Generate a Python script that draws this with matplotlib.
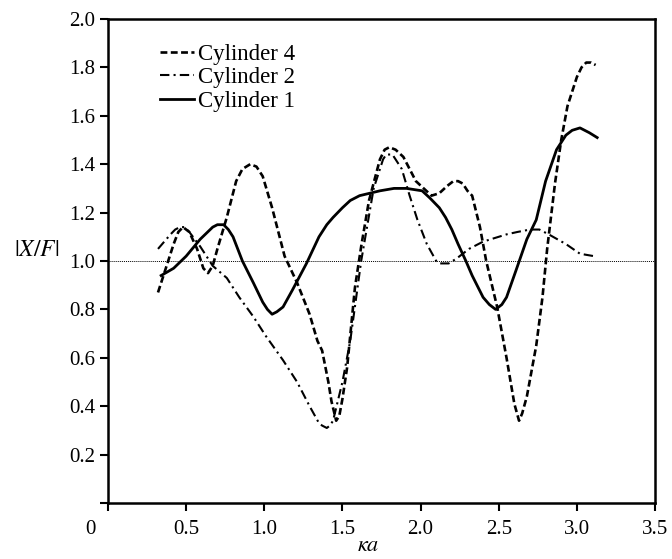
import matplotlib
matplotlib.use("Agg")
import matplotlib.pyplot as plt
import matplotlib.transforms as mtransforms

# ---- data ----
cyl4_x = [0.32, 0.36, 0.42, 0.45, 0.48, 0.52, 0.57, 0.61, 0.64, 0.67, 0.70, 0.76, 0.82,
          0.86, 0.91, 0.95, 0.99, 1.05, 1.13, 1.21, 1.29, 1.34, 1.37, 1.41, 1.43, 1.46,
          1.48, 1.50, 1.53, 1.58, 1.62, 1.67, 1.74, 1.77, 1.80, 1.84, 1.89, 1.97, 2.07,
          2.12, 2.17, 2.21, 2.24, 2.27, 2.30, 2.33, 2.38, 2.42, 2.49, 2.55, 2.60, 2.63,
          2.65, 2.68, 2.74, 2.78, 2.81, 2.86, 2.90, 2.94, 3.00, 3.03, 3.06, 3.09, 3.12]
cyl4_y = [0.87, 0.95, 1.07, 1.12, 1.14, 1.12, 1.05, 0.97, 0.95, 0.98, 1.05, 1.18, 1.33,
          1.38, 1.40, 1.39, 1.35, 1.22, 1.02, 0.91, 0.78, 0.67, 0.63, 0.50, 0.42, 0.34,
          0.36, 0.43, 0.56, 0.89, 1.06, 1.25, 1.42, 1.46, 1.47, 1.46, 1.43, 1.33, 1.27,
          1.28, 1.31, 1.33, 1.33, 1.32, 1.29, 1.27, 1.14, 1.00, 0.81, 0.60, 0.41, 0.34,
          0.37, 0.44, 0.65, 0.85, 1.05, 1.32, 1.50, 1.64, 1.76, 1.80, 1.82, 1.82, 1.81]

cyl2_x = [0.32, 0.40, 0.43, 0.46, 0.49, 0.52, 0.59, 0.67, 0.76, 0.84, 0.93, 1.01, 1.12,
          1.21, 1.29, 1.35, 1.37, 1.40, 1.42, 1.44, 1.50, 1.55, 1.62, 1.70, 1.76, 1.78,
          1.80, 1.82, 1.84, 1.88, 1.93, 1.98, 2.04, 2.10, 2.12, 2.14, 2.18, 2.23, 2.31,
          2.40, 2.55, 2.62, 2.70, 2.76, 2.82, 2.93, 3.02, 3.11]
cyl2_y = [1.05, 1.11, 1.13, 1.14, 1.14, 1.12, 1.06, 0.98, 0.93, 0.85, 0.77, 0.69, 0.59,
          0.50, 0.40, 0.33, 0.32, 0.31, 0.32, 0.34, 0.50, 0.67, 1.00, 1.30, 1.42, 1.44,
          1.44, 1.44, 1.42, 1.38, 1.27, 1.17, 1.07, 1.00, 0.99, 0.99, 0.99, 1.01, 1.05,
          1.08, 1.11, 1.12, 1.13, 1.13, 1.11, 1.07, 1.03, 1.02]

cyl1_x = [0.34, 0.42, 0.50, 0.59, 0.67, 0.70, 0.74, 0.77, 0.80, 0.86, 0.93, 0.99, 1.02,
          1.05, 1.08, 1.12, 1.18, 1.27, 1.35, 1.40, 1.44, 1.50, 1.55, 1.61, 1.74, 1.83,
          1.91, 2.01, 2.06, 2.12, 2.16, 2.20, 2.24, 2.29, 2.33, 2.40, 2.44, 2.48, 2.52,
          2.55, 2.61, 2.68, 2.74, 2.80, 2.87, 2.93, 2.97, 3.02, 3.08, 3.13]
cyl1_y = [0.94, 0.97, 1.02, 1.09, 1.14, 1.15, 1.15, 1.13, 1.10, 1.00, 0.91, 0.83, 0.80,
          0.78, 0.79, 0.81, 0.88, 0.99, 1.10, 1.15, 1.18, 1.22, 1.25, 1.27, 1.29, 1.30,
          1.30, 1.29, 1.26, 1.22, 1.18, 1.13, 1.07, 1.00, 0.94, 0.85, 0.82, 0.80, 0.82,
          0.85, 0.96, 1.09, 1.17, 1.33, 1.46, 1.52, 1.54, 1.55, 1.53, 1.51]

x_ticks = [0, 0.5, 1.0, 1.5, 2.0, 2.5, 3.0, 3.5]
x_ticklabels = ["0", "0.5", "1.0", "1.5", "2.0", "2.5", "3.0", "3.5"]
y_ticks = [0, 0.2, 0.4, 0.6, 0.8, 1.0, 1.2, 1.4, 1.6, 1.8, 2.0]
y_ticklabels = ["", "0.2", "0.4", "0.6", "0.8", "1.0", "1.2", "1.4", "1.6", "1.8", "2.0"]

plt.rcParams["font.family"] = ["Liberation Serif", "DejaVu Serif"]
plt.rcParams["mathtext.fontset"] = "stix"

fig = plt.figure(figsize=(6.72, 5.59), dpi=100)
ax = fig.add_axes([108 / 672, 1 - 503 / 559, (655 - 108) / 672, (503 - 19) / 559])

ax.axhline(1.0, color="black", lw=0.7, ls=(0, (1, 1)), zorder=1)

ax.plot(cyl4_x, cyl4_y, color="black", lw=1.9, ls=(0, (2.6, 1.3)), label="Cylinder 4")
ax.plot(cyl2_x, cyl2_y, color="black", lw=1.5, ls=(0, (4.5, 2, 1, 2)), label="Cylinder 2")
ax.plot(cyl1_x, cyl1_y, color="black", lw=2.0, ls="-", label="Cylinder 1")

ax.set_xlim(0, 3.5)
ax.set_ylim(0, 2.0)
ax.set_xticks(x_ticks)
ax.set_xticklabels(x_ticklabels)
ax.set_yticks(y_ticks)
ax.set_yticklabels(y_ticklabels)
ax.tick_params(direction="out", length=6, width=1.5, labelsize=15, pad=3)
ax.tick_params(axis="x", pad=6)
for s in ax.spines.values():
    s.set_linewidth(1.8)

# shift the "0" x label to the left like the reference
lbl0 = ax.get_xticklabels()[0]
lbl0.set_transform(lbl0.get_transform() + mtransforms.ScaledTranslation(-18 / 100, 0, fig.dpi_scale_trans))

ax.set_ylabel(r"$|X/F|$", rotation=0, fontsize=17, labelpad=0)
ax.yaxis.set_label_coords(-0.13, 0.5)
ax.set_xlabel(r"$\kappa a$", fontsize=16, labelpad=4)
ax.xaxis.set_label_coords(0.475, -0.07)

leg = ax.legend(loc="upper left", bbox_to_anchor=(0.078, 0.968), frameon=False, fontsize=16.5,
                handlelength=1.5, handletextpad=0.15, labelspacing=0.12, borderaxespad=0)

fig.savefig("out.png", dpi=100)
